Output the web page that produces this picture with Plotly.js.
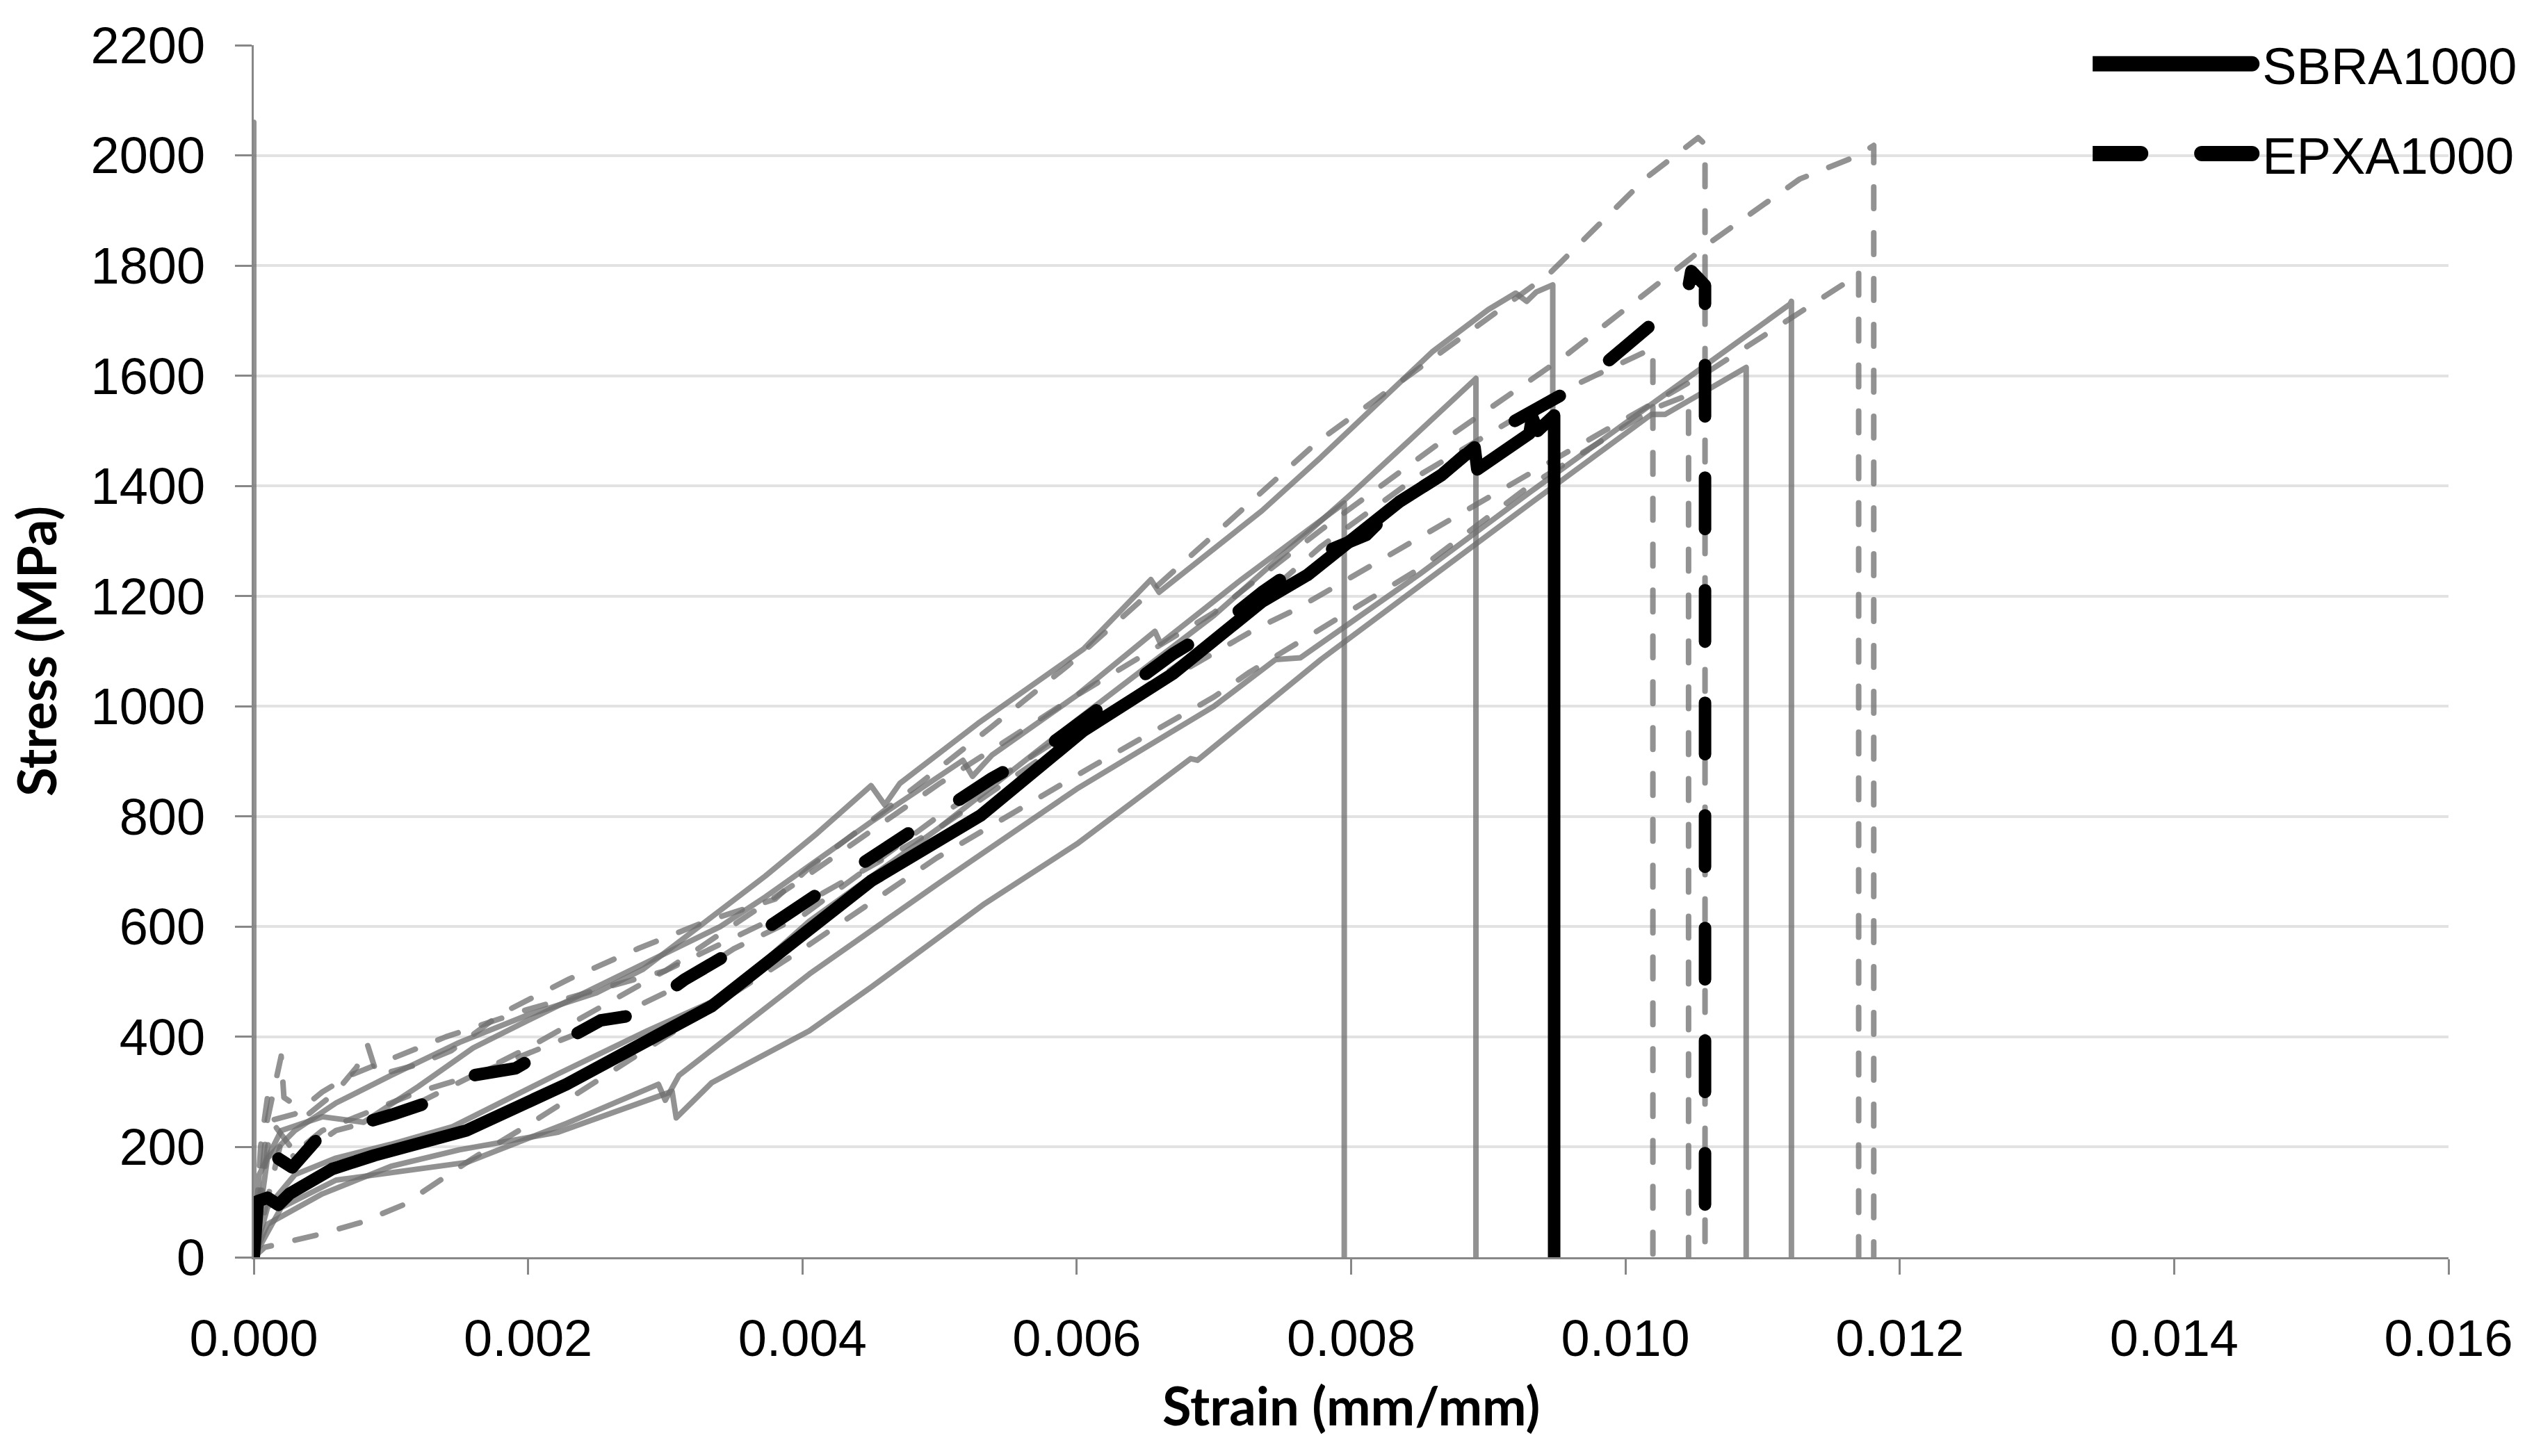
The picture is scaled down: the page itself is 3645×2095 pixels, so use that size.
<!DOCTYPE html>
<html>
<head>
<meta charset="utf-8">
<script src="https://cdn.plot.ly/plotly-3.0.1.min.js"></script>
<style>
  html, body { margin: 0; padding: 0; background: #fff; }
  #myDiv { width: 3645px; height: 2095px; }
  .js-line, .legendlines path { stroke-linecap: round; stroke-linejoin: round; }
  .legend .legendlines path { stroke-width: 22px !important; }
  .legend .legendlines { transform: translateX(-10px); }
</style>
</head>
<body>
<div id="myDiv"></div>
<script>
// average curves
let sbraX = [0, 0.00003, 0.0001, 0.00018, 0.00026, 0.00057, 0.00088, 0.00109, 0.00155, 0.00228, 0.00284, 0.00334, 0.00403, 0.0045, 0.0053, 0.00605, 0.0067, 0.00735, 0.00768, 0.008, 0.00835, 0.00866, 0.0089, 0.00892, 0.0091, 0.0093, 0.00932, 0.00936, 0.00948, 0.00948];
let sbraY = [0, 102, 108, 95, 115, 160, 185, 198, 230, 314, 391, 456, 591, 683, 802, 956, 1059, 1190, 1238, 1305, 1371, 1420, 1470, 1430, 1460, 1495, 1525, 1500, 1528, 0];

let epxaX = [0.00018, 0.00028, 0.00045, 0.00075, 0.00101, 0.00132, 0.0016, 0.00191, 0.0022, 0.00253, 0.00279, 0.00314, 0.00345, 0.0038, 0.00405, 0.00442, 0.0047, 0.0051, 0.00538, 0.00577, 0.00605, 0.00641, 0.0067, 0.00706, 0.00735, 0.00773, 0.00811, 0.00835, 0.00866, 0.00897, 0.00932, 0.00967, 0.00998, 0.0103, 0.01045, 0.01048, 0.01058, 0.01058];
let epxaY = [179, 163, 211, 240, 259, 285, 330, 343, 385, 430, 440, 504, 549, 604, 649, 712, 757, 821, 869, 924, 976, 1043, 1095, 1149, 1207, 1272, 1311, 1371, 1420, 1487, 1533, 1584, 1649, 1721, 1748, 1790, 1764, 0];

// SBRA specimens (solid grey)
let s1X = [0, 0, 0.00004, 0.0002, 0.0005, 0.0008, 0.0012, 0.0016, 0.002, 0.0025, 0.003, 0.0034, 0.00373, 0.0045, 0.00517, 0.00524, 0.00538, 0.006, 0.00657, 0.00661, 0.0072, 0.00778, 0.00795, 0.00795];
let s1Y = [2060, 0, 150, 230, 255, 245, 310, 380, 430, 490, 550, 600, 654, 790, 902, 873, 911, 1020, 1136, 1114, 1230, 1339, 1369, 0];
let s2X = [0, 0.0001, 0.0003, 0.0006, 0.001, 0.00145, 0.00222, 0.00287, 0.00344, 0.00405, 0.005, 0.006, 0.007, 0.00754, 0.008, 0.0085, 0.00891, 0.00891];
let s2Y = [0, 90, 150, 180, 205, 237, 333, 411, 475, 610, 780, 975, 1165, 1282, 1385, 1500, 1595, 0];
let s3X = [0, 0.0001, 0.0003, 0.0006, 0.001, 0.0015, 0.002, 0.0025, 0.00284, 0.00336, 0.00373, 0.00411, 0.0045, 0.0046, 0.00471, 0.00528, 0.00605, 0.00654, 0.0066, 0.00735, 0.00778, 0.00859, 0.009, 0.0092, 0.00928, 0.00935, 0.00947, 0.00947];
let s3Y = [0, 180, 230, 280, 330, 390, 440, 480, 523, 623, 692, 770, 856, 821, 860, 969, 1104, 1230, 1207, 1355, 1452, 1643, 1720, 1750, 1735, 1752, 1765, 0];
let s4X = [0, 0.0001, 0.0005, 0.001, 0.0015, 0.00222, 0.00305, 0.00308, 0.00334, 0.00405, 0.0045, 0.00533, 0.006, 0.00683, 0.00688, 0.00778, 0.0093, 0.01019, 0.01029, 0.01086, 0.01088, 0.01088];
let s4Y = [0, 60, 115, 165, 195, 227, 301, 253, 317, 411, 490, 642, 750, 905, 902, 1085, 1367, 1530, 1530, 1610, 1615, 0];
let s5X = [0, 0.0002, 0.0006, 0.00155, 0.00228, 0.00295, 0.003, 0.0031, 0.00405, 0.005, 0.006, 0.007, 0.00745, 0.00763, 0.0085, 0.0093, 0.01021, 0.0112, 0.01121, 0.01121];
let s5Y = [0, 90, 140, 172, 243, 314, 285, 330, 514, 680, 850, 1000, 1085, 1088, 1240, 1388, 1552, 1730, 1735, 0];

// EPXA specimens (dashed grey)
let e1X = [0, 0.00005, 0.0001, 0.00015, 0.0003, 0.0005, 0.0007, 0.001, 0.0014, 0.002, 0.003, 0.004, 0.005, 0.006, 0.007, 0.00778, 0.0085, 0.00948, 0.0101, 0.0102, 0.0102];
let e1Y = [0, 200, 290, 250, 260, 300, 330, 360, 400, 450, 520, 640, 780, 950, 1120, 1290, 1420, 1565, 1640, 1650, 0];
let e2X = [0, 0.00008, 0.00047, 0.00078, 0.00109, 0.00134, 0.0016, 0.002, 0.0025, 0.003, 0.0035, 0.004, 0.00498, 0.00565, 0.00612, 0.007, 0.00726, 0.0085, 0.0093, 0.0102, 0.01046, 0.01046];
let e2Y = [0, 18, 41, 63, 95, 137, 180, 240, 320, 400, 480, 559, 725, 824, 892, 1017, 1062, 1250, 1400, 1540, 1565, 0];
let e3X = [0, 0.00005, 0.0001, 0.0002, 0.00022, 0.0004, 0.0006, 0.00075, 0.00083, 0.0009, 0.0012, 0.00144, 0.00181, 0.0023, 0.0028, 0.0033, 0.0038, 0.00405, 0.00484, 0.00538, 0.00594, 0.00645, 0.00665, 0.00776, 0.00944, 0.01015, 0.01053, 0.01058, 0.01058];
let e3Y = [0, 120, 250, 365, 290, 260, 300, 345, 385, 330, 350, 375, 443, 505, 560, 610, 650, 707, 857, 963, 1075, 1188, 1233, 1481, 1784, 1959, 2032, 2020, 0];
let e4X = [0, 0.0001, 0.00015, 0.0003, 0.0005, 0.0008, 0.0012, 0.0016, 0.002, 0.0025, 0.003, 0.0035, 0.004, 0.00499, 0.00591, 0.00676, 0.0073, 0.00759, 0.00934, 0.0106, 0.01165, 0.0117, 0.0117];
let e4Y = [0, 200, 240, 190, 230, 260, 300, 330, 370, 420, 480, 560, 620, 800, 947, 1062, 1140, 1175, 1428, 1607, 1776, 1790, 0];
let e5X = [0, 0.0001, 0.0002, 0.0003, 0.0006, 0.0009, 0.0012, 0.0016, 0.002, 0.003, 0.004, 0.005, 0.006, 0.007, 0.00778, 0.0086, 0.00955, 0.01048, 0.0106, 0.01127, 0.0117, 0.01181, 0.01181];
let e5Y = [0, 100, 210, 180, 230, 250, 280, 330, 380, 520, 687, 860, 1020, 1170, 1320, 1470, 1634, 1814, 1839, 1957, 2000, 2018, 0];

let greySolid = {color: 'rgba(110,110,110,0.75)', width: 8};
let greyDash = {color: 'rgba(110,110,110,0.75)', width: 8, dash: '31px,35px'};

function grey(x, y, line) {
  return {x: x, y: y, type: 'scatter', mode: 'lines', line: line, showlegend: false, hoverinfo: 'skip'};
}

let data = [
  grey(s1X, s1Y, greySolid), grey(s2X, s2Y, greySolid), grey(s3X, s3Y, greySolid),
  grey(s4X, s4Y, greySolid), grey(s5X, s5Y, greySolid),
  grey(e1X, e1Y, greyDash), grey(e2X, e2Y, greyDash), grey(e3X, e3Y, greyDash),
  grey(e4X, e4Y, greyDash), grey(e5X, e5Y, greyDash),
  {x: sbraX, y: sbraY, type: 'scatter', mode: 'lines', name: 'SBRA1000',
   legendgroup: 'a', line: {color: '#000', width: 18}},
  {x: epxaX, y: epxaY, type: 'scatter', mode: 'lines', name: 'EPXA1000',
   legendgroup: 'b', line: {color: '#000', width: 18, dash: '74px,88px'}}
];

let tickFont = {family: 'Liberation Sans, Arial, sans-serif', size: 74, color: '#000'};
let titleFont = {family: 'Lato, Liberation Sans, sans-serif', size: 76, color: '#000', weight: 'bold'};

let layout = {
  width: 3645,
  height: 2095,
  margin: {l: 365, r: 123, t: 65, b: 286},
  paper_bgcolor: '#fff',
  plot_bgcolor: '#fff',
  showlegend: true,
  legend: {
    x: 1.033, xanchor: 'right', y: 1.016, yanchor: 'top',
    font: tickFont, itemwidth: 234, tracegroupgap: 30,
    traceorder: 'grouped', bgcolor: 'rgba(0,0,0,0)'
  },
  xaxis: {
    range: [0, 0.016], dtick: 0.002, tick0: 0, tickformat: '.3f',
    showgrid: false, zeroline: false,
    showline: true, linecolor: '#878787', linewidth: 3,
    ticks: 'outside', ticklen: 22, tickwidth: 3, tickcolor: '#878787',
    tickfont: tickFont, ticklabelstandoff: 28,
    automargin: false
  },
  yaxis: {
    range: [0, 2200], dtick: 200, tick0: 0,
    showgrid: true, gridcolor: '#e2e2e2', gridwidth: 4,
    zeroline: false,
    showline: true, linecolor: '#878787', linewidth: 3,
    ticks: 'outside', ticklen: 24, tickwidth: 3, tickcolor: '#878787',
    tickfont: tickFont, ticklabelstandoff: 28,
    title: {text: 'Stress (MPa)', font: titleFont, standoff: 24},
    automargin: false
  },
  annotations: [{
    text: 'Strain (mm/mm)', font: titleFont, showarrow: false,
    xref: 'paper', x: 0.5, xanchor: 'center',
    yref: 'paper', y: -0.122, yanchor: 'middle'
  }]
};

Plotly.newPlot('myDiv', data, layout, {staticPlot: true});
</script>
</body>
</html>
